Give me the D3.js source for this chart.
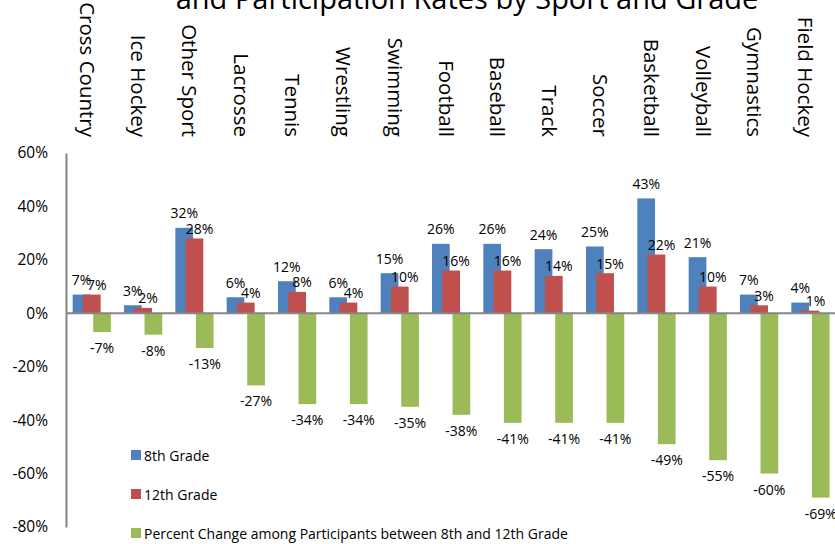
<!DOCTYPE html>
<html>
<head>
<meta charset="utf-8">
<script src="https://cdn.jsdelivr.net/npm/d3@7"></script>
<style>
  html, body { margin: 0; padding: 0; background: #fff; overflow: hidden; }
  svg { display: block; font-family: 'Open Sans', sans-serif; }
</style>
</head>
<body>
<div id="chart"></div>
<script>
// Data
const sports = ['Cross Country', 'Ice Hockey', 'Other Sport', 'Lacrosse', 'Tennis', 'Wrestling',
  'Swimming', 'Football', 'Baseball', 'Track', 'Soccer', 'Basketball', 'Volleyball',
  'Gymnastics', 'Field Hockey'];
const grade8 = [7, 3, 32, 6, 12, 6, 15, 26, 26, 24, 25, 43, 21, 7, 4];
const grade12 = [7, 2, 28, 4, 8, 4, 10, 16, 16, 14, 15, 22, 10, 3, 1];
const pctChange = [-7, -8, -13, -27, -34, -34, -35, -38, -41, -41, -41, -49, -55, -60, -69];
const yTicks = [60, 40, 20, 0, -20, -40, -60, -80];
const seriesNames = ['8th Grade', '12th Grade', 'Percent Change among Participants between 8th and 12th Grade'];
const colors = ['#4F81BD', '#C0504D', '#9BBB59'];

const width = 835;
const height = 544;

const svg = d3.select('#chart')
  .append('svg')
  .attr('width', width)
  .attr('height', height);

// Scales
const x = d3.scaleBand()
  .domain(sports)
  .range([66, 836])
  .paddingInner(0)
  .paddingOuter(0);

const y = d3.scaleLinear()
  .domain([-80, 60])
  .range([527, 153]);

const bw = x.bandwidth();
const barW = bw * 0.345;
const barOffset = (k) => bw * (0.13 + k * 0.2);

// Title (first line falls outside the frame)
svg.append('text')
  .attr('x', 467)
  .attr('y', 9)
  .attr('text-anchor', 'middle')
  .style('font-size', '29px')
  .style('fill', '#000')
  .text('and Participation Rates by Sport and Grade');

// Bars, drawn blue, then red, then green so each sits on top of the previous one
const series = [grade8, grade12, pctChange];
series.forEach((values, k) => {
  svg.append('g')
    .selectAll('rect')
    .data(values)
    .enter()
    .append('rect')
    .attr('x', (d, i) => x(sports[i]) + barOffset(k))
    .attr('y', (d) => y(Math.max(0, d)))
    .attr('width', barW)
    .attr('height', (d) => Math.abs(y(d) - y(0)))
    .attr('fill', colors[k]);
});

// Data labels
const labelG = svg.append('g').style('font-size', '14px').style('fill', '#000');
labelG.selectAll('.l8')
  .data(grade8)
  .enter()
  .append('text')
  .attr('x', (d, i) => x(sports[i]) + barOffset(0) + barW / 2)
  .attr('y', (d) => y(d) - 9.5)
  .attr('text-anchor', 'middle')
  .text((d) => d + '%');

labelG.selectAll('.l12')
  .data(grade12)
  .enter()
  .append('text')
  .attr('x', (d, i) => x(sports[i]) + barOffset(1) + barW / 2 + 5)
  .attr('y', (d) => y(d) - 4.5)
  .attr('text-anchor', 'middle')
  .text((d) => d + '%');

labelG.selectAll('.lc')
  .data(pctChange)
  .enter()
  .append('text')
  .attr('x', (d, i) => x(sports[i]) + barOffset(2) + barW / 2)
  .attr('y', (d) => y(d) + 21)
  .attr('text-anchor', 'middle')
  .text((d) => d + '%');

// Axes
const yAxis = svg.append('g')
  .attr('transform', 'translate(66,0)')
  .call(d3.axisLeft(y).tickValues(yTicks).tickSize(0).tickPadding(18).tickFormat((d) => d + '%'));
yAxis.select('.domain').attr('stroke', '#868686').attr('stroke-width', 2);
yAxis.selectAll('text')
  .style('font-family', "'Open Sans', sans-serif")
  .style('font-size', '15.5px')
  .style('fill', '#000');

svg.append('line')
  .attr('x1', 66)
  .attr('x2', width)
  .attr('y1', y(0))
  .attr('y2', y(0))
  .attr('stroke', '#868686')
  .attr('stroke-width', 2);

// Category labels along the top, rotated to read downwards
svg.append('g')
  .selectAll('text')
  .data(sports)
  .enter()
  .append('text')
  .attr('transform', (d) => `translate(${x(d) + bw / 2 - 4},137) rotate(90)`)
  .attr('text-anchor', 'end')
  .attr('dominant-baseline', 'central')
  .style('font-size', '20.5px')
  .style('fill', '#000')
  .text((d) => d);

// Legend
const legend = svg.append('g');
seriesNames.forEach((name, k) => {
  const ly = 455 + k * 39;
  legend.append('rect')
    .attr('x', 131)
    .attr('y', ly - 5)
    .attr('width', 10)
    .attr('height', 10)
    .attr('fill', colors[k]);
  legend.append('text')
    .attr('x', 144)
    .attr('y', ly)
    .attr('dominant-baseline', 'central')
    .style('font-size', '14px')
    .style('fill', '#000')
    .text(name);
});
</script>
</body>
</html>
